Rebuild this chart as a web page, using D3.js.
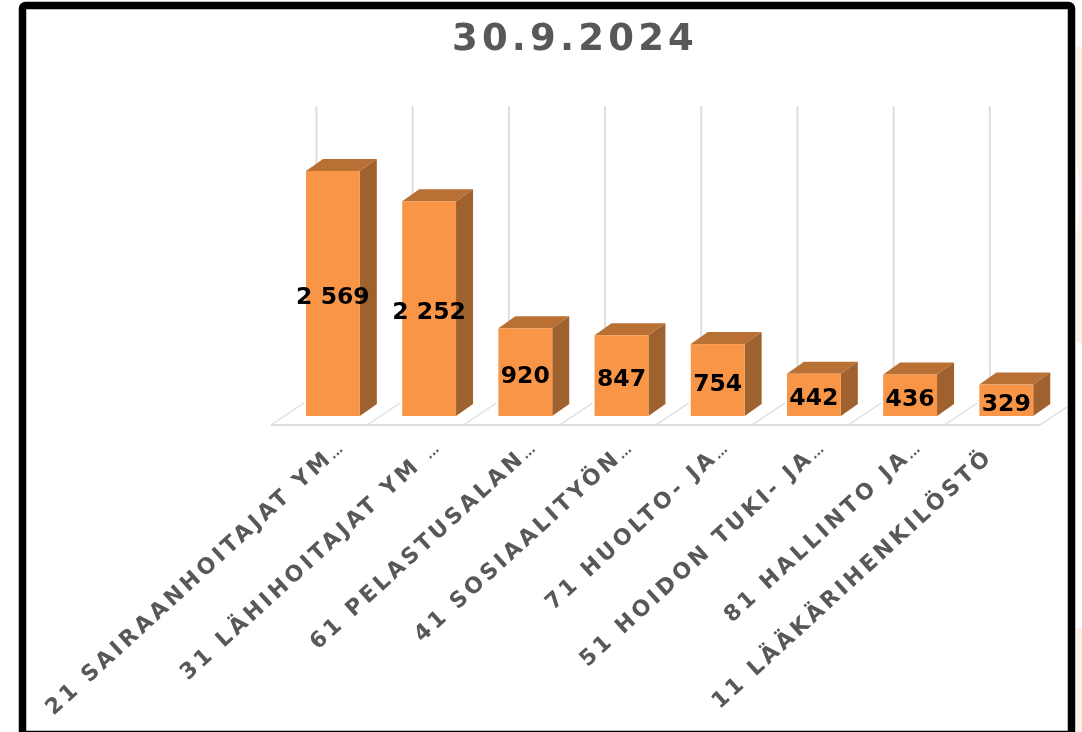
<!DOCTYPE html>
<html><head><meta charset="utf-8">
<script src="https://cdn.jsdelivr.net/npm/d3@7"></script>
<style>html,body{margin:0;padding:0;background:#fff}svg{display:block}</style>
</head><body><svg id="c" width="1082" height="732"></svg>
<script>
const categories=["21 SAIRAANHOITAJAT YM...","31 LÄHIHOITAJAT YM ...","61 PELASTUSALAN...","41 SOSIAALITYÖN...","71 HUOLTO- JA...","51 HOIDON TUKI- JA...","81 HALLINTO JA...","11 LÄÄKÄRIHENKILÖSTÖ"];
const values=[2569,2252,920,847,754,442,436,329];
const valueLabels=["2 569","2 252","920","847","754","442","436","329"];
const title="30.9.2024";

const svg=d3.select("#c");
const x=d3.scaleBand().domain(categories).range([284.8,1054.4]).paddingInner(0.44).paddingOuter(0.22);
const y=d3.scaleLinear().domain([0,2569]).range([416,171]);
const dx=17,dy=-12;
const font="DejaVu Sans";

const defs=svg.append("defs");
defs.append("filter").attr("id","soft").append("feGaussianBlur").attr("stdDeviation",0.6);
defs.append("filter").attr("id","softText").append("feGaussianBlur").attr("stdDeviation",0.75);
svg.append("rect").attr("x",1076).attr("y",47).attr("width",6).attr("height",296).attr("fill","#fdf1e7");
svg.append("ellipse").attr("cx",1076).attr("cy",197).attr("rx",3).attr("ry",38).attr("fill","#fff");
svg.append("rect").attr("x",1076).attr("y",628).attr("width",6).attr("height",104).attr("fill","#fdf1e7");
const g=svg.append("g").attr("filter","url(#soft)");

g.append("g").selectAll("line").data(categories).join("line")
 .attr("x1",d=>x(d)+10.5).attr("x2",d=>x(d)+10.5).attr("y1",106).attr("y2",395)
 .attr("stroke","#dedede").attr("stroke-width",2);
g.append("line").attr("x1",271).attr("x2",1040).attr("y1",425).attr("y2",425).attr("stroke","#dedede").attr("stroke-width",2);
g.append("g").selectAll("line").data(categories).join("line")
 .attr("x1",d=>x(d)-35).attr("y1",425).attr("x2",d=>x(d)-2).attr("y2",403)
 .attr("stroke","#dedede").attr("stroke-width",1.5);
g.append("line").attr("x1",1040).attr("y1",425).attr("x2",1067).attr("y2",407).attr("stroke","#dedede").attr("stroke-width",1.5);

const bars=g.append("g").selectAll("g").data(categories).join("g");
const w=x.bandwidth();
bars.append("path").attr("fill","#b87035").attr("d",(d,i)=>{const X=x(d),Y=y(values[i]);
 return `M${X},${Y}L${X+dx},${Y+dy}L${X+w+dx},${Y+dy}L${X+w},${Y}Z`;});
bars.append("path").attr("fill","#9f622e").attr("d",(d,i)=>{const X=x(d)+w,Y=y(values[i]),B=y(0);
 return `M${X},${Y}L${X+dx},${Y+dy}L${X+dx},${B+dy}L${X},${B}Z`;});
bars.append("rect").attr("x",d=>x(d)).attr("width",w).attr("y",(d,i)=>y(values[i])).attr("height",(d,i)=>y(0)-y(values[i])).attr("fill","#f99546");

svg.append("rect").attr("x",22.5).attr("y",5.5).attr("width",1049).attr("height",729).attr("rx",3).attr("fill","none").attr("stroke","#000").attr("stroke-width",7.5);

const t=svg.append("g").attr("filter","url(#softText)");
t.append("text").attr("x",575).attr("y",49.5).attr("text-anchor","middle").attr("fill","#595959")
 .attr("font-family",font).attr("font-weight",700).attr("font-size",37).attr("letter-spacing",4.2).text(title);
t.append("g").selectAll("text").data(valueLabels).join("text")
 .attr("x",(d,i)=>x(categories[i])+w/2).attr("y",(d,i)=>(y(0)+y(values[i]))/2+10.5)
 .attr("text-anchor","middle").attr("fill","#000").attr("font-family",font).attr("font-weight",700)
 .attr("font-size",23.5).text(d=>d);
const labels=t.append("g").selectAll("text").data(categories).join("text")
 .attr("transform",d=>{const full=!d.endsWith("...");return `translate(${x(d)+(full?10:33)},${full?453:445}) rotate(-42.5)`;})
 .attr("text-anchor","end").attr("dy",7).attr("fill","#595959").attr("font-family",font).attr("font-weight",700)
 .attr("font-size",22).attr("letter-spacing",3.4);
labels.append("tspan").text(d=>d.replace(/\.\.\.$/,""));
labels.append("tspan").attr("font-size",12).attr("letter-spacing",0).text(d=>d.endsWith("...")?"...":"");
</script></body></html>
